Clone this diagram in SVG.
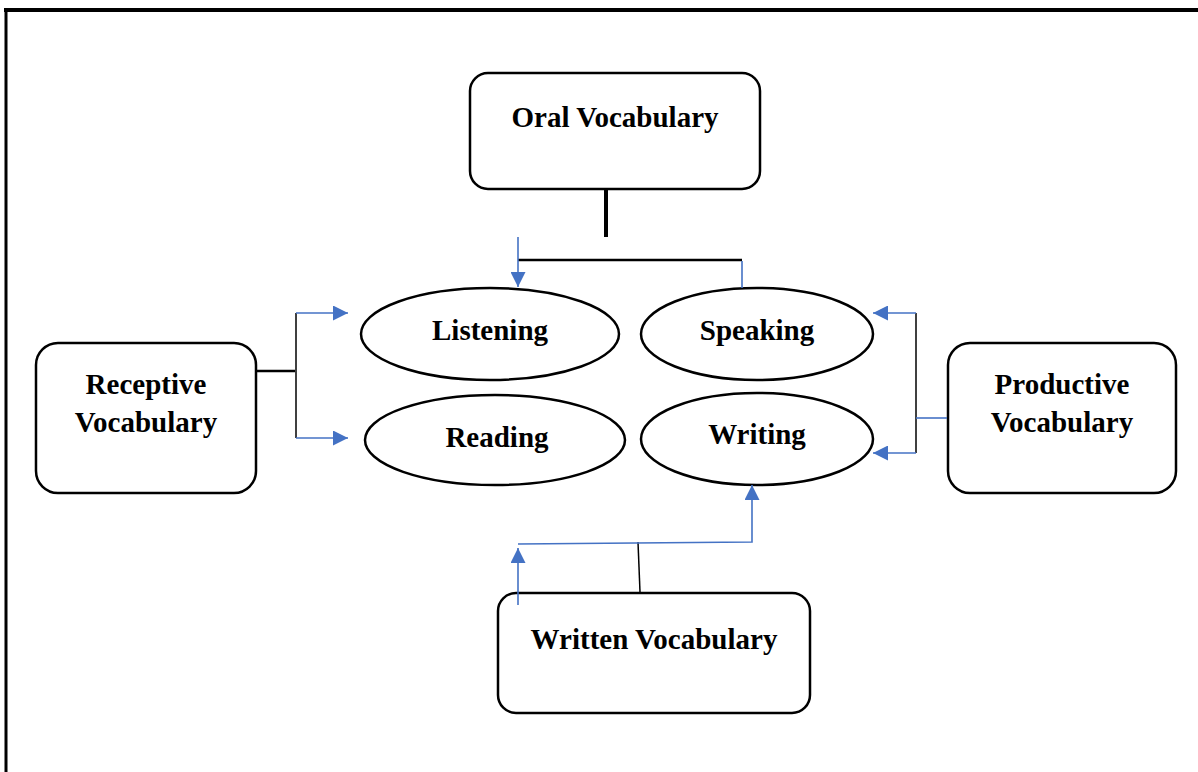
<svg xmlns="http://www.w3.org/2000/svg" width="1198" height="772" viewBox="0 0 1198 772">
<defs>
<style>
.box{fill:#fff;stroke:#000;stroke-width:2.5}
.ell{fill:#fff;stroke:#000;stroke-width:2.5}
.t{font-family:"Liberation Serif","Times New Roman",serif;font-weight:bold;font-size:29px;text-anchor:middle;fill:#000}
.blue{stroke:#4472C4;stroke-width:1.6;fill:none}
.blk{stroke:#000;fill:none}
.gry{stroke:#404040;stroke-width:2;fill:none}
</style>
<marker id="ah" viewBox="0 0 10 10" refX="10" refY="5" markerWidth="15" markerHeight="15" markerUnits="userSpaceOnUse" orient="auto">
<path d="M0,0 L10,5 L0,10 Z" fill="#4472C4"/>
</marker>
</defs>
<rect width="1198" height="772" fill="#fff"/>
<g id="frame">
<line x1="4" y1="10" x2="1198" y2="10" stroke="#000" stroke-width="4"/>
<line x1="6" y1="8" x2="6" y2="772" stroke="#000" stroke-width="3"/>
</g>
<g id="oral"><rect class="box" x="470" y="73" width="290" height="116" rx="18"/><text class="t" x="615" y="127">Oral Vocabulary</text></g>
<g id="receptive"><rect class="box" x="36" y="343" width="220" height="150" rx="22"/><text class="t" x="146" y="394">Receptive</text><text class="t" x="146" y="432">Vocabulary</text></g>
<g id="productive"><rect class="box" x="948" y="343" width="228" height="150" rx="22"/><text class="t" x="1062" y="394">Productive</text><text class="t" x="1062" y="432">Vocabulary</text></g>
<g id="written"><rect class="box" x="498" y="593" width="312" height="120" rx="18"/><text class="t" x="654" y="649">Written Vocabulary</text></g>
<g id="listening"><ellipse class="ell" cx="490" cy="334" rx="129" ry="46"/><text class="t" x="490" y="340">Listening</text></g>
<g id="speaking"><ellipse class="ell" cx="757" cy="334" rx="116" ry="46"/><text class="t" x="757" y="340">Speaking</text></g>
<g id="reading"><ellipse class="ell" cx="495" cy="440" rx="130" ry="45"/><text class="t" x="497" y="447">Reading</text></g>
<g id="writing"><ellipse class="ell" cx="757" cy="439" rx="116" ry="46"/><text class="t" x="757" y="444">Writing</text></g>
<g id="connectors">
<line class="blk" x1="606" y1="190" x2="606" y2="237" stroke-width="4"/>
<line class="blk" x1="518" y1="260" x2="742" y2="260" stroke-width="2.5"/>
<line class="blue" x1="518" y1="237" x2="518" y2="287" marker-end="url(#ah)"/>
<line class="blue" x1="742" y1="261" x2="742" y2="288"/>
<line class="blk" x1="257" y1="371" x2="296" y2="371" stroke-width="2.5"/>
<line class="gry" x1="296" y1="313" x2="296" y2="438"/>
<line class="blue" x1="296" y1="313" x2="348" y2="313" marker-end="url(#ah)"/>
<line class="blue" x1="296" y1="438" x2="348" y2="438" marker-end="url(#ah)"/>
<line class="gry" x1="916" y1="313" x2="916" y2="453"/>
<line class="blue" x1="916" y1="418" x2="947" y2="418"/>
<line class="blue" x1="916" y1="313" x2="873" y2="313" marker-end="url(#ah)"/>
<line class="blue" x1="916" y1="453" x2="873" y2="453" marker-end="url(#ah)"/>
<line class="blk" x1="640" y1="592" x2="638" y2="542" stroke-width="1.5"/>
<line class="blue" x1="518" y1="605" x2="518" y2="548" marker-end="url(#ah)"/>
<polyline class="blue" points="518,544 752,542 752,485" marker-end="url(#ah)"/>
</g>
</svg>
